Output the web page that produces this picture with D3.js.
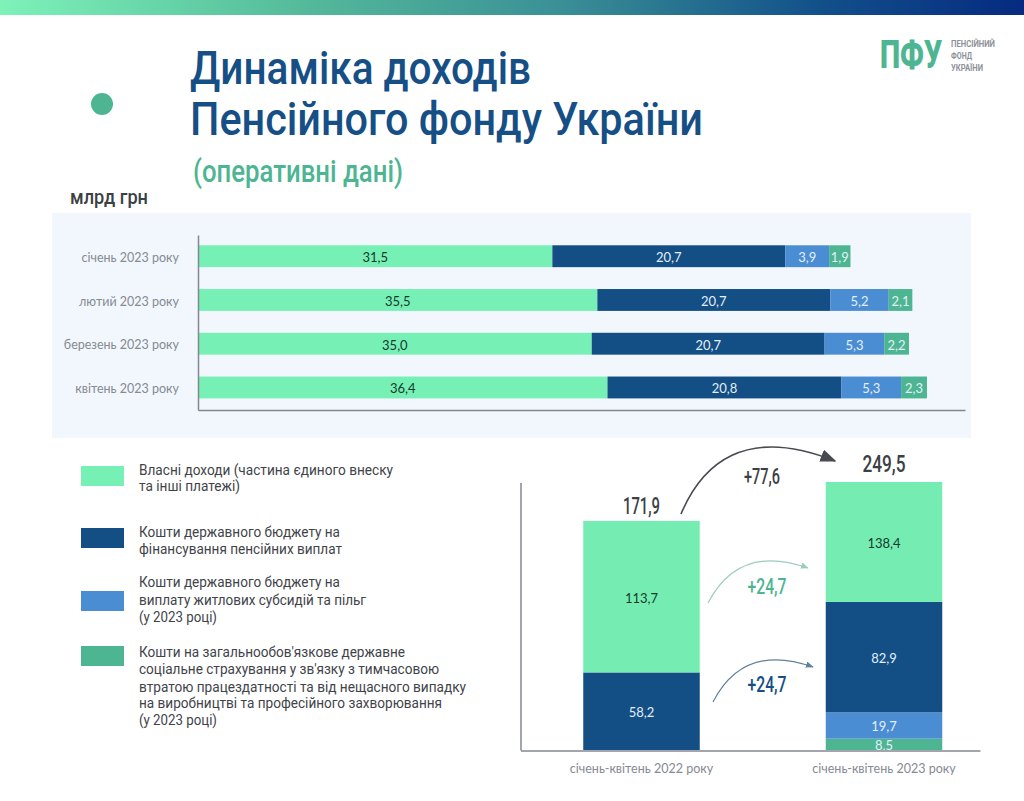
<!DOCTYPE html>
<html lang="uk">
<head>
<meta charset="utf-8">
<title>Динаміка доходів Пенсійного фонду України</title>
<script src="https://cdn.jsdelivr.net/npm/d3@7"></script>
<style>
html,body{margin:0;padding:0;background:#fff;overflow:hidden}
svg{display:block}
</style>
</head>
<body>
<svg id="chart" width="1024" height="801"></svg>
<script>
// Monthly chart data (млрд грн)
const months = ["січень 2023 року", "лютий 2023 року", "березень 2023 року", "квітень 2023 року"];
const ownIncome = [31.5, 35.5, 35.0, 36.4];
const stateBudget = [20.7, 20.7, 20.7, 20.8];
const subsidies = [3.9, 5.2, 5.3, 5.3];
const socialInsurance = [1.9, 2.1, 2.2, 2.3];

// Period chart data (млрд грн)
const periods = ["січень-квітень 2022 року", "січень-квітень 2023 року"];
const periodOwn = [113.7, 138.4];
const periodBudget = [58.2, 82.9];
const periodSubsidies = [0, 19.7];
const periodInsurance = [0, 8.5];
const periodTotals = [171.9, 249.5];
// The reference draws the 138,4 segment far shorter than its label implies
// (about the height of 90 on the scale the other segments share); this keeps that picture.
const periodOwnDrawn = [113.7, 90.0];

const legendLabels = [
  ["Власні доходи (частина єдиного внеску", "та інші платежі)"],
  ["Кошти державного бюджету на", "фінансування пенсійних виплат"],
  ["Кошти державного бюджету на", "виплату житлових субсидій та пільг", "(у 2023 році)"],
  ["Кошти на загальнообов'язкове державне", "соціальне страхування у зв'язку з тимчасовою", "втратою працездатності та від нещасного випадку", "на виробництві та професійного захворювання", "(у 2023 році)"]
];
const changes = ["+77,6", "+24,7", "+24,7"];

const C = {own:"#77f0b6", budget:"#134e84", subs:"#4b8dd3", ins:"#4db592",
           axis:"#83878f", grey:"#858a93", dark:"#3b4045", title:"#164f85"};
const fmt = v => d3.format(".1f")(v).replace(".", ",");
const svg = d3.select("#chart");
const HEAD = "Roboto, sans-serif", BODY = "Lato, sans-serif", CAT = "Lato, 'Noto Sans', sans-serif";

// Horizontally fitted heading-style text
function fit(x, y, str, size, width, fill, weight, anchor){
  return svg.append("text").attr("x", x).attr("y", y).text(str)
    .attr("font-family", HEAD).attr("font-size", size).attr("font-weight", weight || 500)
    .attr("fill", fill).attr("text-anchor", anchor || "start")
    .attr("textLength", width).attr("lengthAdjust", "spacingAndGlyphs");
}

// Header
const defs = svg.append("defs");
const grad = defs.append("linearGradient").attr("id", "topBand");
[[0,"#7df2b9"],[0.3,"#54b99a"],[0.55,"#3a8f96"],[0.8,"#12508a"],[1,"#062a80"]].forEach(s =>
  grad.append("stop").attr("offset", s[0]).attr("stop-color", s[1]));
svg.append("rect").attr("width", 1024).attr("height", 15).attr("fill", "url(#topBand)");
svg.append("circle").attr("cx", 102).attr("cy", 104).attr("r", 11).attr("fill", C.ins);
fit(190, 83.5, "Динаміка доходів", 47, 341, C.title);
fit(190, 135, "Пенсійного фонду України", 47, 513, C.title);
fit(193, 182, "(оперативні дані)", 31, 210, C.ins, 500);
fit(70, 204, "млрд грн", 20, 78, C.dark, 500);

// Logo: smaller type stretched upright, so its box stays clear of the small caption
fit(0, 0, "ПФУ", 26, 62, C.ins, 900).attr("transform", "translate(880,67.5) scale(1,1.46)");
[["ПЕНСІЙНИЙ",47,44],["ФОНД",59,21],["УКРАЇНИ",71,32]].forEach(d =>
  fit(951, d[1], d[0], 8.5, d[2], "#8d9199", 700));

// Monthly panel
svg.append("rect").attr("x", 52).attr("y", 213).attr("width", 919).attr("height", 225).attr("fill", "#f2f7fd");

const rows = months.map((m,i) => ({m, own:ownIncome[i], budget:stateBudget[i], subs:subsidies[i], ins:socialInsurance[i]}));
const keys = ["own","budget","subs","ins"];
const stackH = d3.stack().keys(keys)(rows);
const x = d3.scaleLinear().domain([0, 68.18]).range([198, 965]);
const y = d3.scaleBand().domain(months).range([235, 410]).paddingInner(0.5).paddingOuter(0.25).align(0.47);
const gH = svg.append("g");
stackH.forEach(layer => {
  const g = gH.append("g");
  g.selectAll("rect").data(layer).join("rect")
    .attr("x", d => x(d[0])).attr("width", d => x(d[1]) - x(d[0]))
    .attr("y", d => y(d.data.m)).attr("height", y.bandwidth())
    .attr("fill", C[layer.key]);
  g.selectAll("text").data(layer).join("text")
    .attr("x", d => (x(d[0]) + x(d[1])) / 2)
    .attr("y", d => y(d.data.m) + y.bandwidth() / 2)
    .attr("dy", "0.45em").attr("text-anchor", "middle")
    .attr("font-family", BODY).attr("font-size", 13)
    .attr("fill", layer.key === "own" ? "#143a2c" : "#e4effa")
    .text(d => fmt(d.data[layer.key]));
});
const axisLeftH = svg.append("g").attr("transform", "translate(198,0)")
  .call(d3.axisLeft(y).tickSize(0).tickPadding(19));
axisLeftH.select(".domain").attr("stroke", C.axis).attr("stroke-width", 1.5);
axisLeftH.selectAll("text").attr("font-family", CAT).attr("font-size", 12.5).attr("fill", C.grey).attr("dy", "0.45em");
const axisBottomH = svg.append("g").attr("transform", "translate(0,410)")
  .call(d3.axisBottom(x).tickValues([]).tickSizeOuter(0));
axisBottomH.select(".domain").attr("stroke", C.axis).attr("stroke-width", 1.5);

// Legend
const swatches = [
  {fill:C.own, top:466, h:20, lines:legendLabels[0], base:[475,491]},
  {fill:C.budget, top:528, h:20, lines:legendLabels[1], base:[537,554]},
  {fill:C.subs, top:591, h:20, lines:legendLabels[2], base:[587,605,622]},
  {fill:C.ins, top:646, h:20, lines:legendLabels[3], base:[657,674,692,708,725]}
];
const widths = [[254,101],[201,203],[201,227,78],[266,300,327,303,78]];
swatches.forEach((s,i) => {
  svg.append("rect").attr("x", 81).attr("y", s.top).attr("width", 43).attr("height", s.h).attr("fill", s.fill);
  s.lines.forEach((t,j) => fit(139, s.base[j], t, 15, widths[i][j], "#3f444a", 400));
});

// Period chart
const pRows = periods.map((p,i) => ({p, ins:periodInsurance[i], subs:periodSubsidies[i], budget:periodBudget[i], own:periodOwnDrawn[i],
  label:{ins:periodInsurance[i], subs:periodSubsidies[i], budget:periodBudget[i], own:periodOwn[i]}}));
const stackV = d3.stack().keys(["ins","subs","budget","own"])(pRows);
const x2 = d3.scalePoint().domain(periods).range([641.5, 884]);
const barW = 116.5;
const y2 = d3.scaleLinear().domain([0, 200.7]).range([750, 482.5]);
const gV = svg.append("g");
stackV.forEach(layer => {
  const g = gV.append("g");
  const vis = layer.filter(d => d[1] > d[0]);
  g.selectAll("rect").data(vis).join("rect")
    .attr("x", d => x2(d.data.p) - barW / 2).attr("width", barW)
    .attr("y", d => y2(d[1])).attr("height", d => y2(d[0]) - y2(d[1]))
    .attr("fill", layer.key === "own" ? "#75edb2" : C[layer.key]);
  g.selectAll("text").data(vis).join("text")
    .attr("x", d => x2(d.data.p))
    .attr("y", d => (y2(d[0]) + y2(d[1])) / 2)
    .attr("dy", "0.45em").attr("text-anchor", "middle")
    .attr("font-family", BODY).attr("font-size", 13)
    .attr("fill", layer.key === "own" ? "#143a2c" : "#e4effa")
    .text(d => fmt(d.data.label[layer.key]));
});
const axisLeftV = svg.append("g").attr("transform", "translate(520.5,0)")
  .call(d3.axisLeft(y2).tickValues([]).tickSizeOuter(0));
axisLeftV.select(".domain").attr("stroke", C.axis).attr("stroke-width", 1.5);
const xAxisScale = d3.scaleLinear().domain([0,1]).range([520.5, 980]);
const axisBottomV = svg.append("g").attr("transform", "translate(0,750.5)")
  .call(d3.axisBottom(xAxisScale).tickValues([]).tickSizeOuter(0));
axisBottomV.select(".domain").attr("stroke", C.axis).attr("stroke-width", 1.5);

periods.forEach(p => svg.append("text").attr("x", x2(p)).attr("y", 773).attr("text-anchor", "middle")
  .attr("font-family", CAT).attr("font-size", 12.5).attr("fill", C.grey).text(p));

fit(x2(periods[0]), 513.5, fmt(periodTotals[0]), 23, 37, C.dark, 500, "middle");
fit(x2(periods[1]), 472, fmt(periodTotals[1]), 23, 43, C.dark, 500, "middle");

// Change arrows
function arrow(id, d, color, w, size){
  defs.append("marker").attr("id", id).attr("viewBox", "0 0 10 10").attr("refX", 9).attr("refY", 5)
    .attr("markerUnits", "userSpaceOnUse").attr("markerWidth", size).attr("markerHeight", size * 0.8)
    .attr("orient", "auto").attr("preserveAspectRatio", "none")
    .append("path").attr("d", "M0,0L10,5L0,10Z").attr("fill", color);
  svg.append("path").attr("d", d).attr("fill", "none").attr("stroke", color).attr("stroke-width", w)
    .attr("marker-end", `url(#${id})`);
}
arrow("a1", "M681,514C702,464 745,425 835,461", "#474b50", 1.6, 16);
arrow("a2", "M708,603C724,572 752,548 808,568", "#9accbf", 1.2, 8);
arrow("a3", "M713,702C729,671 757,647 813,667", "#5f8199", 1.2, 8);
fit(762, 484, changes[0], 22, 36, C.dark, 500, "middle");
fit(767, 594, changes[1], 22, 39, C.ins, 500, "middle");
fit(767, 692, changes[2], 22, 39, C.title, 500, "middle");
</script>
</body>
</html>
